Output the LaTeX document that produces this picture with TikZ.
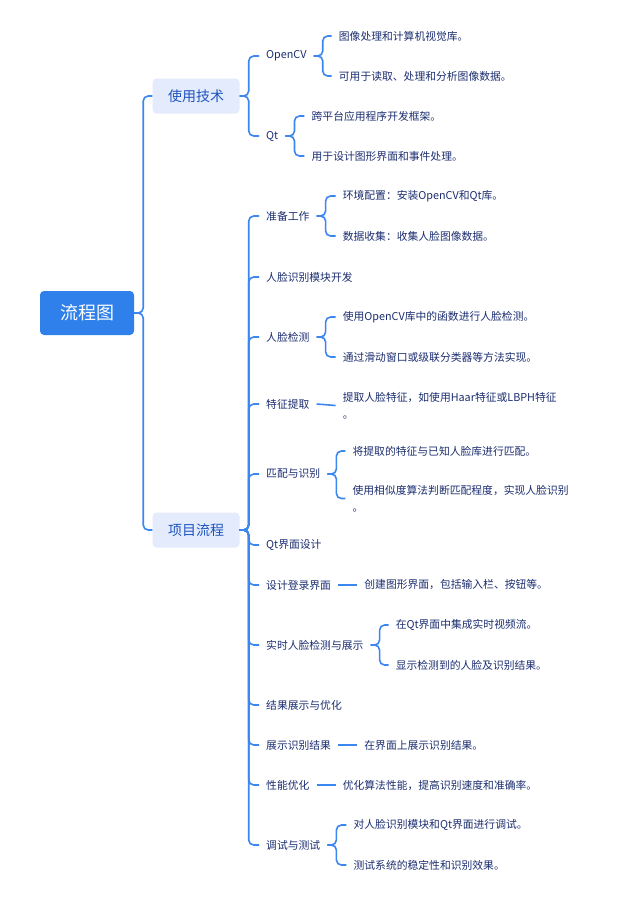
\documentclass[tikz,border=0pt]{standalone}
\usepackage{fontspec}
\usepackage{tikz}
\usetikzlibrary{positioning}
\newfontfamily\cjk{Noto Sans CJK SC}
\definecolor{MMblue}{RGB}{47,128,235}
\definecolor{MMline}{RGB}{60,134,240}
\definecolor{MMpale}{RGB}{228,235,252}
\definecolor{MMdark}{RGB}{30,84,190}
\definecolor{MMnavy}{RGB}{28,46,112}
\tikzset{
  root/.style={rounded corners=4pt,fill=MMblue,text=white,font=\cjk\fontsize{18}{20}\selectfont,
               minimum width=94pt,minimum height=44pt,inner sep=0pt},
  topic/.style={rounded corners=4pt,fill=MMpale,text=MMdark,font=\cjk\fontsize{14}{16}\selectfont,
                minimum width=87pt,minimum height=35pt,inner sep=0pt},
  item/.style={anchor=west,text=MMnavy,font=\cjk\fontsize{10.8}{17}\selectfont,
               inner xsep=7pt,inner ysep=2pt,align=left},
  leaf/.style={item},
  link/.style={draw=MMline,line width=1.6pt,rounded corners=5pt}
}
\begin{document}
\begin{tikzpicture}[x=1pt,y=-1pt]
  \useasboundingbox[fill=white] (0,0) rectangle (640,897);
  % root and main topics
  \node[root] (chart) at (87,313) {流程图};
  \node[topic] (tech) at (196,96) {使用技术};
  \node[topic] (proc) at (196,530) {项目流程};
  \draw[link] (chart.east) -- ++(9,0) |- (tech.west);
  \draw[link] (chart.east) -- ++(9,0) |- (proc.west);

  % technologies
  \node[item] (cv) at (259,56) {OpenCV};
  \node[item] (qt) at (259,136) {Qt};
  \node[leaf,right=18pt of cv,yshift=20pt] (cva) {图像处理和计算机视觉库。};
  \node[leaf,right=18pt of cv,yshift=-20pt] (cvb) {可用于读取、处理和分析图像数据。};
  \node[leaf,right=19pt of qt,yshift=20pt] (qta) {跨平台应用程序开发框架。};
  \node[leaf,right=19pt of qt,yshift=-20pt] (qtb) {用于设计图形界面和事件处理。};
  \foreach \c in {cv,qt}
    \draw[link] (tech.east) -- ++(9,0) |- (\c.west);
  \foreach \c in {cva,cvb}
    \draw[link] (cv.east) -- ++(9,0) |- (\c.west);
  \foreach \c in {qta,qtb}
    \draw[link] (qt.east) -- ++(9,0) |- (\c.west);

  % project steps
  \node[item] (prep) at (259,216) {准备工作};
  \node[item] (face) at (259,277) {人脸识别模块开发};
  \node[item] (det) at (259,337) {人脸检测};
  \node[item] (feat) at (259,404) {特征提取};
  \node[item] (match) at (259,474) {匹配与识别};
  \node[item] (ui) at (259,545) {Qt界面设计};
  \node[item] (login) at (259,585) {设计登录界面};
  \node[item] (live) at (259,645) {实时人脸检测与展示};
  \node[item] (res) at (259,705) {结果展示与优化};
  \node[item] (show) at (259,745) {展示识别结果};
  \node[item] (perf) at (259,785) {性能优化};
  \node[item] (test) at (259,845) {调试与测试};
  \foreach \c in {prep,face,det,feat,match,ui,login,live,res,show,perf,test}
    \draw[link] (proc.east) -- ++(9,0) |- (\c.west);

  % details
  \node[leaf,right=19pt of prep,yshift=20pt] (prepa) {环境配置：安装OpenCV和Qt库。};
  \node[leaf,right=19pt of prep,yshift=-20pt] (prepb) {数据收集：收集人脸图像数据。};
  \node[leaf,right=19pt of det,yshift=20pt] (deta) {使用OpenCV库中的函数进行人脸检测。};
  \node[leaf,right=19pt of det,yshift=-20pt] (detb) {通过滑动窗口或级联分类器等方法实现。};
  \node[leaf,right=19pt of feat,yshift=-1.5pt] (feata) {提取人脸特征，如使用Haar特征或LBPH特征\\。};
  \node[leaf,right=18pt of match,yshift=23pt] (matcha) {将提取的特征与已知人脸库进行匹配。};
  \node[leaf,right=18pt of match,yshift=-24.5pt] (matchb) {使用相似度算法判断匹配程度，实现人脸识别\\。};
  \node[leaf,right=19pt of login] (logina) {创建图形界面，包括输入栏、按钮等。};
  \node[leaf,right=18pt of live,yshift=20pt] (livea) {在Qt界面中集成实时视频流。};
  \node[leaf,right=18pt of live,yshift=-20pt] (liveb) {显示检测到的人脸及识别结果。};
  \node[leaf,right=19pt of show] (showa) {在界面上展示识别结果。};
  \node[leaf,right=19pt of perf] (perfa) {优化算法性能，提高识别速度和准确率。};
  \node[leaf,right=19pt of test,yshift=20pt] (testa) {对人脸识别模块和Qt界面进行调试。};
  \node[leaf,right=19pt of test,yshift=-20pt] (testb) {测试系统的稳定性和识别效果。};
  \foreach \p/\c in {prep/prepa,prep/prepb,det/deta,det/detb,match/matcha,match/matchb,
                     live/livea,live/liveb,test/testa,test/testb}
    \draw[link] (\p.east) -- ++(9,0) |- (\c.west);
  \foreach \p/\c in {feat/feata,login/logina,show/showa,perf/perfa}
    \draw[link] (\p.east) -- (\c.west);
\end{tikzpicture}
\end{document}
